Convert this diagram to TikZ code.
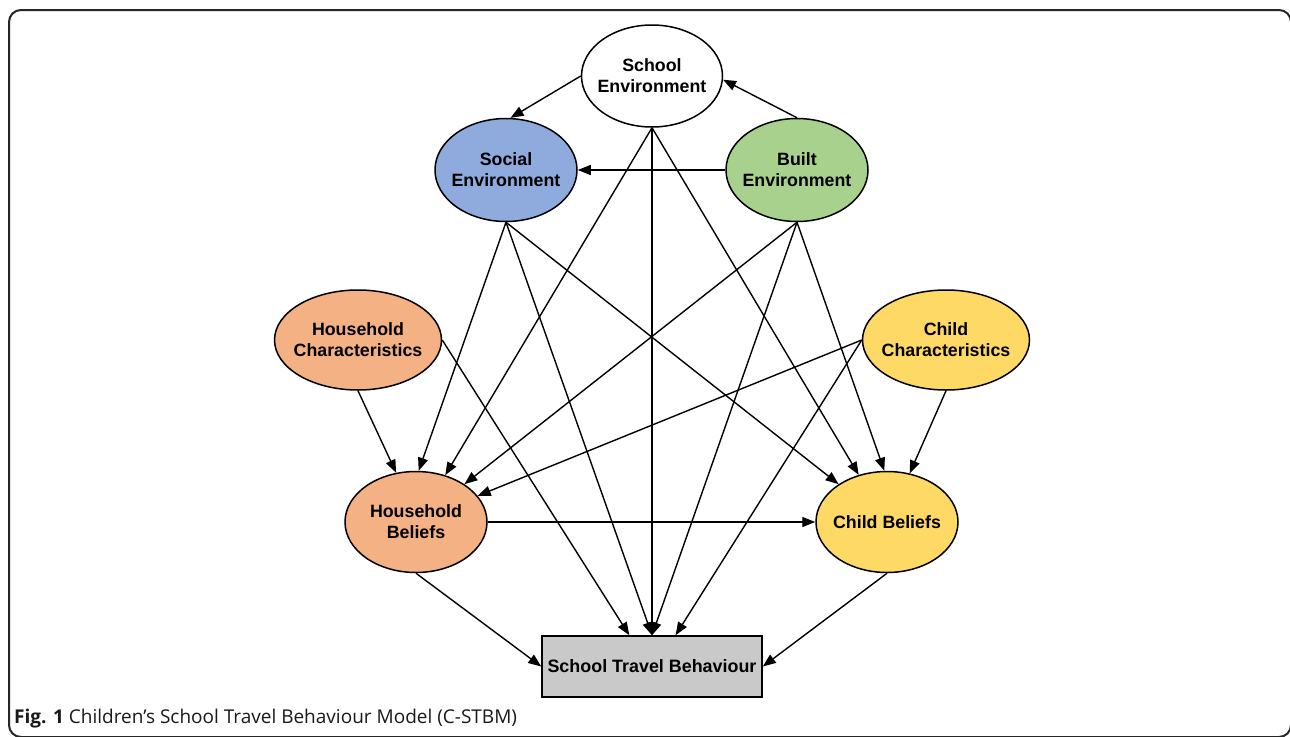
\documentclass[tikz,border=0pt]{standalone}
\usepackage{fontspec}
\setmainfont{Liberation Sans}
\newfontfamily\capfont{Open Sans}
\usepackage{tikz}
\usetikzlibrary{shapes.geometric, arrows.meta}
\definecolor{socialblue}{RGB}{143, 170, 220}
\definecolor{builtgreen}{RGB}{169, 209, 142}
\definecolor{houseorange}{RGB}{244, 177, 131}
\definecolor{childyellow}{RGB}{255, 217, 102}
\definecolor{boxgray}{RGB}{201, 201, 201}
\definecolor{framegray}{gray}{0.15}

\begin{document}
\begin{tikzpicture}[x=1pt, y=-1pt,
  factor/.style={ellipse, draw=black, line width=1.5pt,
    inner xsep=-40pt, inner ysep=-15pt,
    align=center, font=\fontsize{17.8}{21}\selectfont\bfseries},
  link/.style={line width=1.4pt, ->, >={Triangle[length=13pt, width=10pt]}}]
  \useasboundingbox (0, 0) rectangle (1290, 736);
  \clip (0, 0) rectangle (1290, 736);

  % outer frame of the figure
  \draw[color=framegray, line width=2pt, rounded corners=12pt]
    (9, 10) rectangle (1291, 737);

  % environments
  \node[factor, fill=white, minimum width=141pt, minimum height=102pt]
    (sch) at (652, 76) {School\\Environment};
  \node[factor, fill=socialblue, minimum width=142pt, minimum height=103pt]
    (soc) at (506, 170) {Social\\Environment};
  \node[factor, fill=builtgreen, minimum width=142pt, minimum height=103pt]
    (blt) at (797, 170) {Built\\Environment};

  % characteristics
  \node[factor, fill=houseorange, minimum width=167pt, minimum height=100pt]
    (hc) at (358, 340) {Household\\Characteristics};
  \node[factor, fill=childyellow, minimum width=167pt, minimum height=100pt]
    (cc) at (946, 340) {Child\\Characteristics};

  % beliefs
  \node[factor, fill=houseorange, minimum width=142pt, minimum height=101pt]
    (hb) at (416, 522) {Household\\Beliefs};
  \node[factor, fill=childyellow, minimum width=142pt, minimum height=101pt]
    (cb) at (887, 522) {Child Beliefs};

  \node[draw=black, fill=boxgray, line width=1.5pt, minimum width=220pt,
    minimum height=61pt, inner sep=0pt, font=\fontsize{17.9}{21}\selectfont\bfseries]
    (stb) at (652, 666.5) {School Travel Behaviour};

  % school environment
  \draw[link] (sch.west) -- (soc.85);
  \draw[link] (sch.south) -- (hb.58);
  \draw[link] (sch.south) -- (stb.north);
  \draw[link] (sch.south) -- (cb.121);

  % built environment
  \draw[link] (blt.north) -- (sch.-3);
  \draw[link] (blt.west) -- (soc.east);
  \draw[link] (blt.south) -- (hb.38);
  \draw[link] (blt.south) -- (stb.north);
  \draw[link] (blt.south) -- (cb.93);

  % social environment
  \draw[link] (soc.south) -- (hb.87);
  \draw[link] (soc.south) -- (stb.north);
  \draw[link] (soc.south) -- (cb.142);

  % household and child characteristics
  \draw[link] (hc.south) -- (hb.112);
  \draw[link] (hc.east) -- (stb.126);
  \draw[link] (cc.west) -- (hb.23);
  \draw[link] (cc.west) -- (stb.53);
  \draw[link] (cc.south) -- (cb.65);

  % beliefs to behaviour
  \draw[link] (hb.east) -- (cb.west);
  \draw[link] (hb.south) -- (stb.west);
  \draw[link] (cb.south) -- (stb.east);

  \node[anchor=base west, inner sep=0pt, font=\capfont\fontsize{19}{22}\selectfont,
    color=black!90] (cap) at (14, 723)
    {\textbf{Fig. 1} Children’s School Travel Behaviour Model (C-STBM)};
\end{tikzpicture}
\end{document}
